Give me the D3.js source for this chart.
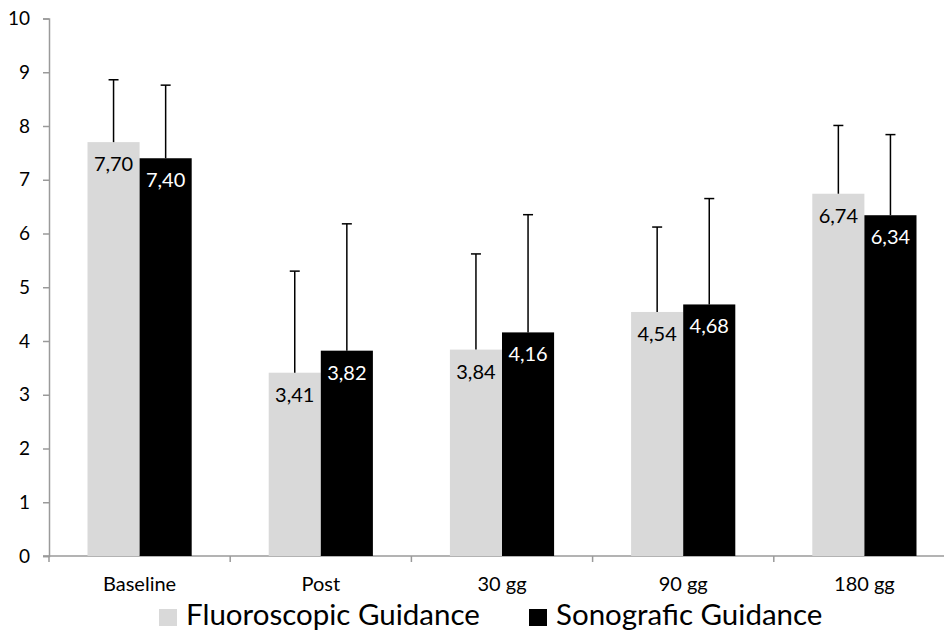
<!DOCTYPE html>
<html>
<head>
<meta charset="utf-8">
<script src="https://cdn.jsdelivr.net/npm/d3@7"></script>
<style>
  body { margin: 0; background: #fff; }
  svg { display: block; font-family: Lato, "Open Sans", sans-serif; }
</style>
</head>
<body>
<svg id="chart" width="944" height="635"></svg>
<script>
const categories = ['Baseline', 'Post', '30 gg', '90 gg', '180 gg'];
const seriesNames = ['Fluoroscopic Guidance', 'Sonografic Guidance'];
const fluoroValues = [7.70, 3.41, 3.84, 4.54, 6.74];
const sonoValues = [7.40, 3.82, 4.16, 4.68, 6.34];
const fluoroErrors = [1.16, 1.89, 1.78, 1.58, 1.27];
const sonoErrors = [1.36, 2.36, 2.19, 1.97, 1.50];
const yTicks = [0, 1, 2, 3, 4, 5, 6, 7, 8, 9, 10];

const COLORS = ['#d9d9d9', '#000000'];
const LABEL_COLORS = ['#000000', '#ffffff'];
const AXIS_COLOR = '#9a9a9a';
const FONT = 'Lato, "Open Sans", sans-serif';

const svg = d3.select('#chart');
const plotLeft = 49, plotRight = 955, plotTop = 18.5, plotBottom = 556;

const x = d3.scaleBand().domain(categories).range([plotLeft, plotRight])
  .paddingInner(0.425).paddingOuter(0.2125);
const xSub = d3.scaleBand().domain([0, 1]).range([0, x.bandwidth()]);
const y = d3.scaleLinear().domain([0, 10]).range([plotBottom, plotTop]);

const rows = [];
categories.forEach((c, i) => {
  rows.push({ cat: c, s: 0, v: fluoroValues[i], e: fluoroErrors[i] });
  rows.push({ cat: c, s: 1, v: sonoValues[i], e: sonoErrors[i] });
});

// y axis
const yAxis = svg.append('g').attr('transform', `translate(${plotLeft},0)`)
  .call(d3.axisLeft(y).tickValues(yTicks).tickSize(6).tickPadding(13))
  .attr('font-family', FONT);
yAxis.select('.domain').attr('stroke', AXIS_COLOR).attr('stroke-width', 1.5);
yAxis.selectAll('.tick line').attr('stroke', AXIS_COLOR).attr('stroke-width', 1.5);
yAxis.selectAll('.tick text').attr('font-size', '19px').attr('fill', '#000');

// x axis: ticks at category boundaries
const xAxisG = svg.append('g').attr('transform', `translate(0,${plotBottom})`);
xAxisG.append('line').attr('x1', plotLeft - 6).attr('x2', plotRight)
  .attr('stroke', AXIS_COLOR).attr('stroke-width', 1.5);
const step = x.step();
const bounds = d3.range(categories.length + 1).map(i => x(categories[0]) - x.paddingOuter() * step + i * step);
xAxisG.selectAll('line.tk').data(bounds).enter().append('line').attr('class', 'tk')
  .attr('x1', d => d).attr('x2', d => d).attr('y1', 0).attr('y2', 6)
  .attr('stroke', AXIS_COLOR).attr('stroke-width', 1.5);
xAxisG.selectAll('text').data(categories).enter().append('text')
  .attr('x', d => x(d) + x.bandwidth() / 2).attr('y', 35)
  .attr('text-anchor', 'middle').attr('font-size', '20px').attr('fill', '#000')
  .text(d => d);

// bars
const barX = d => x(d.cat) + xSub(d.s);
svg.append('g').selectAll('rect').data(rows).enter().append('rect')
  .attr('x', barX).attr('width', xSub.bandwidth())
  .attr('y', d => y(d.v)).attr('height', d => y(0) - y(d.v))
  .attr('fill', d => COLORS[d.s]);

// error bars
const eb = svg.append('g').attr('stroke', '#000').attr('stroke-width', 1.5);
rows.forEach(d => {
  const cx = barX(d) + xSub.bandwidth() / 2;
  eb.append('line').attr('x1', cx).attr('x2', cx).attr('y1', y(d.v)).attr('y2', y(d.v + d.e));
  eb.append('line').attr('x1', cx - 5).attr('x2', cx + 5).attr('y1', y(d.v + d.e)).attr('y2', y(d.v + d.e));
});

// value labels
svg.append('g').selectAll('text').data(rows).enter().append('text')
  .attr('x', d => barX(d) + xSub.bandwidth() / 2)
  .attr('y', d => y(d.v) + 29)
  .attr('text-anchor', 'middle').attr('font-size', '20px')
  .attr('fill', d => LABEL_COLORS[d.s])
  .text(d => d.v.toFixed(2).replace('.', ','));

// legend
const legend = svg.append('g').attr('transform', 'translate(0,625)');
const legendX = [159, 529];
seriesNames.forEach((name, i) => {
  legend.append('rect').attr('x', legendX[i]).attr('y', -16).attr('width', 18).attr('height', 17)
    .attr('fill', COLORS[i]);
  legend.append('text').attr('x', legendX[i] + 27).attr('y', 0)
    .attr('font-size', '29.5px').attr('fill', '#000').text(name);
});
</script>
</body>
</html>
